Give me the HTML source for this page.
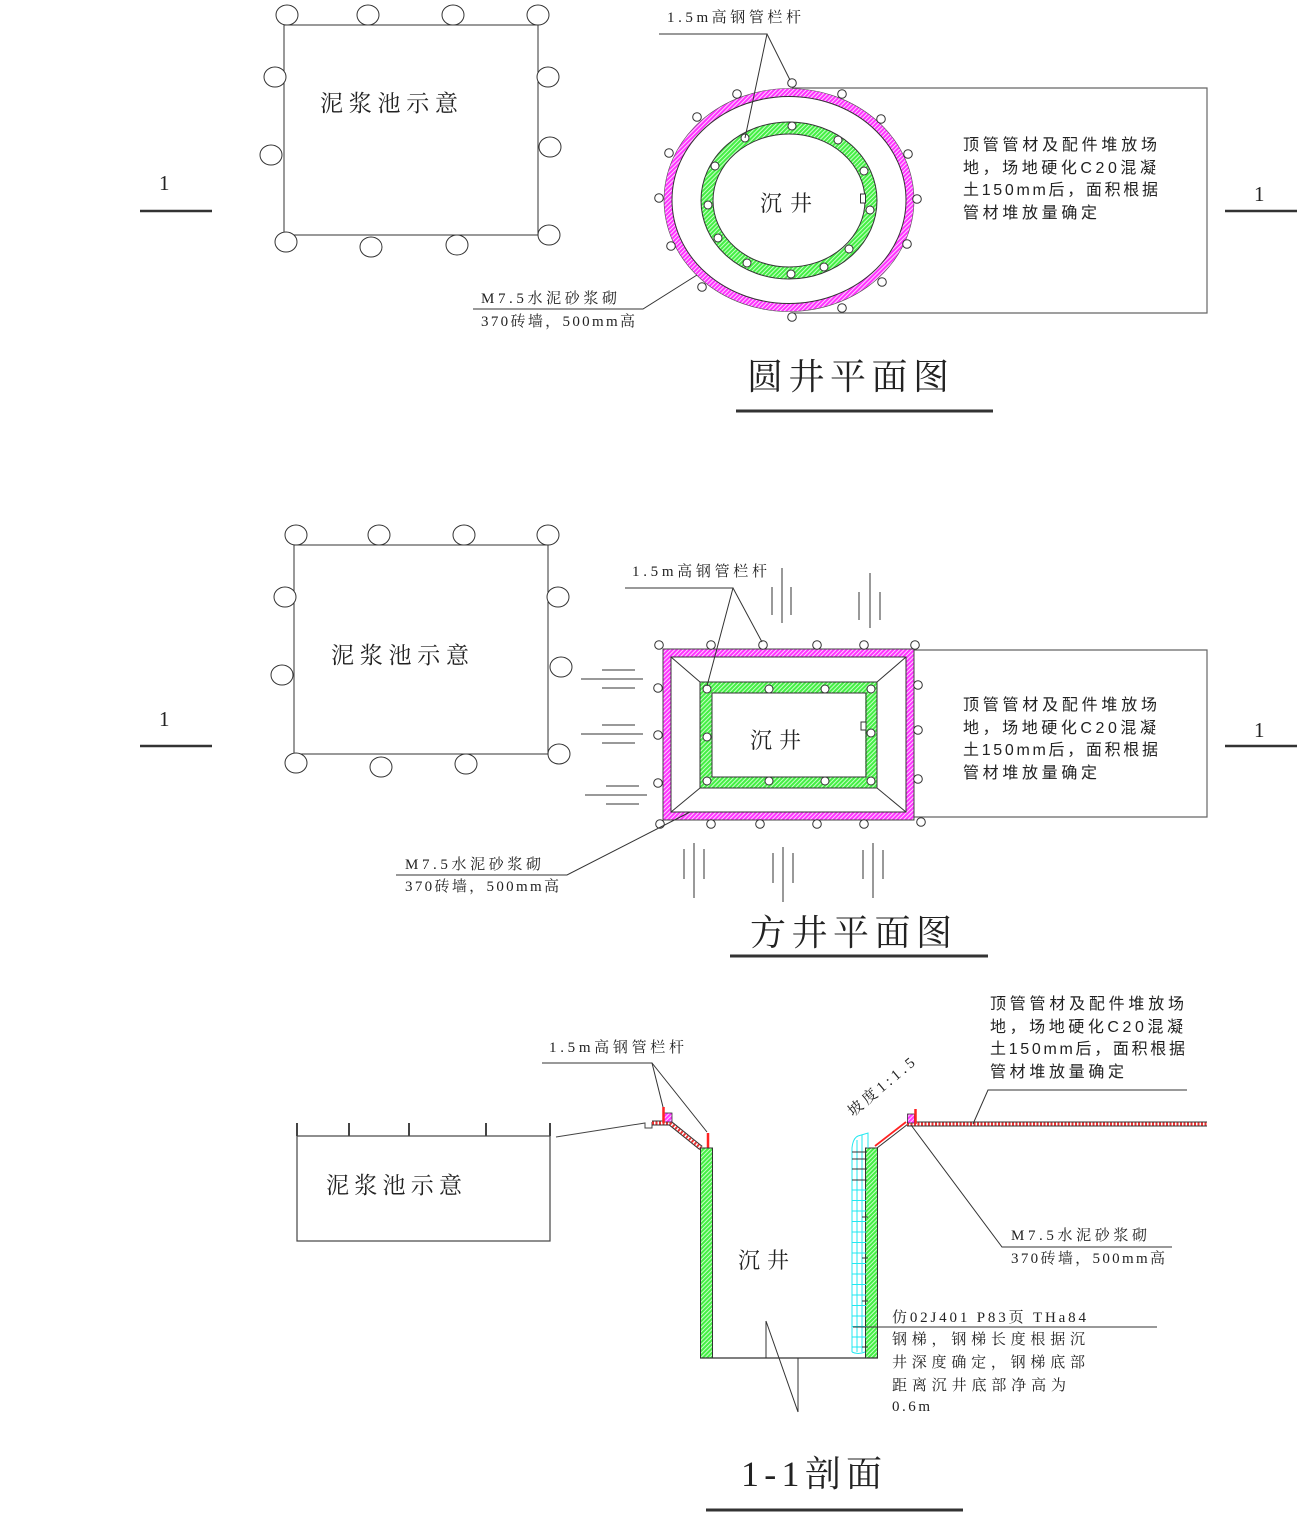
<!DOCTYPE html>
<html><head><meta charset="utf-8"><style>html,body{margin:0;padding:0;background:#fff;}svg{display:block}
.s{font-family:"Liberation Serif","Noto Serif CJK SC",serif;fill:#222}
.k{font-family:"Liberation Sans","Noto Sans CJK SC",sans-serif;fill:#222}
</style></head>
<body>
<svg width="1299" height="1539" viewBox="0 0 1299 1539" xmlns="http://www.w3.org/2000/svg">
<defs>
<pattern id="gh" width="3" height="3" patternUnits="userSpaceOnUse" patternTransform="rotate(45)"><rect width="3" height="3" fill="#44ee44"/><rect width="1" height="3" fill="#c8ffc8"/></pattern>
<pattern id="mh" width="3" height="3" patternUnits="userSpaceOnUse" patternTransform="rotate(45)"><rect width="3" height="3" fill="#ff33ff"/><rect width="1" height="3" fill="#ffd0ff"/></pattern>
<pattern id="rh" width="3" height="3" patternUnits="userSpaceOnUse" patternTransform="rotate(45)"><rect width="3" height="3" fill="#ee3333"/><rect width="1.3" height="3" fill="#fff"/></pattern>
</defs>

<!-- ================= PLAN 1: circular well ================= -->
<g fill="#fff" stroke="#333" stroke-width="1">
<rect x="284" y="25" width="254" height="210" fill="none"/>
<ellipse cx="287" cy="15" rx="11" ry="10"/><ellipse cx="368" cy="15" rx="11" ry="10"/><ellipse cx="453" cy="15" rx="11" ry="10"/><ellipse cx="538" cy="15" rx="11" ry="10"/>
<ellipse cx="275" cy="77" rx="11" ry="10"/><ellipse cx="271" cy="155" rx="11" ry="10"/>
<ellipse cx="548" cy="77" rx="11" ry="10"/><ellipse cx="550" cy="147" rx="11" ry="10"/>
<ellipse cx="286" cy="242" rx="11" ry="10"/><ellipse cx="371" cy="247" rx="11" ry="10"/><ellipse cx="457" cy="245" rx="11" ry="10"/><ellipse cx="549" cy="235" rx="11" ry="10"/>
</g>
<text class="s" x="320" y="111" font-size="23" textLength="138" lengthAdjust="spacing">泥浆池示意</text>

<text class="s" x="159" y="190" font-size="21">1</text>
<line x1="140" y1="211" x2="212" y2="211" stroke="#333" stroke-width="2.5"/>
<text class="s" x="1254" y="201" font-size="21">1</text>
<line x1="1225" y1="211" x2="1297" y2="211" stroke="#333" stroke-width="2.5"/>

<g stroke="#666" stroke-width="1.2" fill="none">
<polyline points="792,88 1207,88 1207,313 792,313"/>
</g>
<!-- magenta ring -->
<ellipse cx="789" cy="200" rx="121" ry="107.5" fill="none" stroke="url(#mh)" stroke-width="8"/>
<ellipse cx="789" cy="200" rx="125" ry="111.5" fill="none" stroke="#555" stroke-width="0.6"/>
<ellipse cx="789" cy="200" rx="117" ry="103.5" fill="none" stroke="#333" stroke-width="1"/>
<!-- green ring -->
<ellipse cx="789" cy="200.5" rx="82" ry="72.5" fill="none" stroke="url(#gh)" stroke-width="12"/>
<ellipse cx="789" cy="200.5" rx="88" ry="78.5" fill="none" stroke="#333" stroke-width="1"/>
<ellipse cx="789" cy="200.5" rx="76" ry="66.5" fill="none" stroke="#333" stroke-width="1"/>
<rect x="860.5" y="194" width="5" height="9" fill="#fff" stroke="#333" stroke-width="1"/>
<g fill="#fff" stroke="#333" stroke-width="1">
<circle cx="792" cy="83" r="4.3"/><circle cx="737" cy="94" r="4.3"/><circle cx="697" cy="117" r="4.3"/><circle cx="669" cy="153" r="4.3"/><circle cx="659" cy="198" r="4.3"/><circle cx="671" cy="246" r="4.3"/><circle cx="702" cy="287" r="4.3"/><circle cx="792" cy="317" r="4.3"/><circle cx="842" cy="308" r="4.3"/><circle cx="882" cy="282" r="4.3"/><circle cx="907" cy="244" r="4.3"/><circle cx="917" cy="199" r="4.3"/><circle cx="908" cy="154" r="4.3"/><circle cx="881" cy="119" r="4.3"/><circle cx="842" cy="94" r="4.3"/>
<circle cx="792" cy="126" r="4"/><circle cx="838" cy="140" r="4"/><circle cx="864" cy="171" r="4"/><circle cx="870" cy="210" r="4"/><circle cx="849" cy="249" r="4"/><circle cx="824" cy="267" r="4"/><circle cx="791" cy="274" r="4"/><circle cx="747" cy="263" r="4"/><circle cx="718" cy="238" r="4"/><circle cx="708" cy="205" r="4"/><circle cx="715" cy="166" r="4"/><circle cx="745" cy="138" r="4"/>
</g>
<text class="s" x="760" y="211" font-size="22" textLength="52" lengthAdjust="spacing">沉井</text>

<text class="s" x="667" y="22" font-size="15" textLength="134" lengthAdjust="spacing">1.5m高钢管栏杆</text>
<g stroke="#333" stroke-width="1" fill="none">
<polyline points="659,34 767,34 745,138"/>
<line x1="767" y1="34" x2="790" y2="80"/>
<polyline points="473,309 643,309 697,275"/>
</g>
<text class="s" x="481" y="303" font-size="15" textLength="136" lengthAdjust="spacing">M7.5水泥砂浆砌</text>
<text class="s" x="481" y="326" font-size="15" textLength="154" lengthAdjust="spacing">370砖墙，500mm高</text>

<text class="k" x="963" y="150" font-size="16" textLength="194" lengthAdjust="spacing">顶管管材及配件堆放场</text>
<text class="k" x="963" y="173" font-size="16" textLength="193" lengthAdjust="spacing">地，场地硬化C20混凝</text>
<text class="k" x="963" y="195" font-size="16" textLength="195" lengthAdjust="spacing">土150mm后，面积根据</text>
<text class="k" x="963" y="218" font-size="16" textLength="134" lengthAdjust="spacing">管材堆放量确定</text>

<text class="s" x="747" y="389" font-size="36" textLength="202" lengthAdjust="spacing">圆井平面图</text>
<line x1="736" y1="411" x2="993" y2="411" stroke="#333" stroke-width="3"/>

<!-- ================= PLAN 2: square well ================= -->
<g fill="#fff" stroke="#333" stroke-width="1">
<rect x="294" y="545" width="254" height="209" fill="none"/>
<ellipse cx="296" cy="535" rx="11" ry="10"/><ellipse cx="379" cy="535" rx="11" ry="10"/><ellipse cx="464" cy="535" rx="11" ry="10"/><ellipse cx="548" cy="535" rx="11" ry="10"/>
<ellipse cx="285" cy="597" rx="11" ry="10"/><ellipse cx="282" cy="675" rx="11" ry="10"/>
<ellipse cx="558" cy="597" rx="11" ry="10"/><ellipse cx="561" cy="667" rx="11" ry="10"/>
<ellipse cx="296" cy="763" rx="11" ry="10"/><ellipse cx="381" cy="767" rx="11" ry="10"/><ellipse cx="466" cy="764" rx="11" ry="10"/><ellipse cx="559" cy="754" rx="11" ry="10"/>
</g>
<text class="s" x="331" y="663" font-size="23" textLength="138" lengthAdjust="spacing">泥浆池示意</text>

<text class="s" x="159" y="726" font-size="21">1</text>
<line x1="140" y1="746" x2="212" y2="746" stroke="#333" stroke-width="2.5"/>
<text class="s" x="1254" y="737" font-size="21">1</text>
<line x1="1225" y1="746" x2="1297" y2="746" stroke="#333" stroke-width="2.5"/>

<polyline points="914,650 1207,650 1207,817 914,817" fill="none" stroke="#666" stroke-width="1.2"/>

<rect x="667" y="653" width="243" height="163" fill="none" stroke="url(#mh)" stroke-width="8"/>
<rect x="663" y="649" width="251" height="171" fill="none" stroke="#444" stroke-width="1"/>
<rect x="671" y="657" width="235" height="155" fill="none" stroke="#333" stroke-width="1"/>
<rect x="706" y="687.5" width="165" height="95" fill="none" stroke="url(#gh)" stroke-width="11.5"/>
<rect x="700" y="682" width="177" height="106" fill="none" stroke="#333" stroke-width="1"/>
<rect x="712" y="693" width="154" height="84" fill="none" stroke="#333" stroke-width="1"/>
<g stroke="#333" stroke-width="1">
<line x1="671" y1="657" x2="700" y2="682"/><line x1="906" y1="657" x2="877" y2="682"/>
<line x1="671" y1="812" x2="700" y2="788"/><line x1="906" y1="812" x2="877" y2="788"/>
</g>
<rect x="861" y="722" width="5" height="8" fill="#fff" stroke="#333" stroke-width="1"/>
<g fill="#fff" stroke="#333" stroke-width="1">
<circle cx="659" cy="645" r="4.3"/><circle cx="711" cy="645" r="4.3"/><circle cx="763" cy="645" r="4.3"/><circle cx="817" cy="645" r="4.3"/><circle cx="864" cy="645" r="4.3"/><circle cx="915" cy="645" r="4.3"/>
<circle cx="658" cy="688" r="4.3"/><circle cx="658" cy="735" r="4.3"/><circle cx="658" cy="783" r="4.3"/><circle cx="660" cy="824" r="4.3"/>
<circle cx="918" cy="685" r="4.3"/><circle cx="918" cy="730" r="4.3"/><circle cx="918" cy="779" r="4.3"/><circle cx="921" cy="822" r="4.3"/>
<circle cx="711" cy="824" r="4.3"/><circle cx="760" cy="824" r="4.3"/><circle cx="817" cy="824" r="4.3"/><circle cx="864" cy="824" r="4.3"/>
<circle cx="707" cy="689" r="4"/><circle cx="769" cy="689" r="4"/><circle cx="825" cy="689" r="4"/><circle cx="871" cy="689" r="4"/>
<circle cx="707" cy="781" r="4"/><circle cx="769" cy="781" r="4"/><circle cx="825" cy="781" r="4"/><circle cx="871" cy="781" r="4"/>
<circle cx="707" cy="737" r="4"/><circle cx="871" cy="733" r="4"/>
</g>
<text class="s" x="750" y="748" font-size="22" textLength="51" lengthAdjust="spacing">沉井</text>

<!-- ground symbols -->
<g stroke="#333" stroke-width="1">
<line x1="602" y1="670" x2="635" y2="670"/><line x1="581" y1="679" x2="643" y2="679"/><line x1="602" y1="688" x2="635" y2="688"/>
<line x1="602" y1="725" x2="635" y2="725"/><line x1="581" y1="734" x2="643" y2="734"/><line x1="602" y1="743" x2="635" y2="743"/>
<line x1="606" y1="786" x2="639" y2="786"/><line x1="585" y1="795" x2="647" y2="795"/><line x1="606" y1="804" x2="639" y2="804"/>
<line x1="772" y1="587" x2="772" y2="615"/><line x1="782" y1="568" x2="782" y2="623"/><line x1="791" y1="587" x2="791" y2="615"/>
<line x1="859" y1="592" x2="859" y2="620"/><line x1="870" y1="573" x2="870" y2="628"/><line x1="880" y1="592" x2="880" y2="620"/>
<line x1="684" y1="849" x2="684" y2="879"/><line x1="694" y1="843" x2="694" y2="898"/><line x1="704" y1="849" x2="704" y2="879"/>
<line x1="773" y1="853" x2="773" y2="883"/><line x1="783" y1="847" x2="783" y2="902"/><line x1="793" y1="853" x2="793" y2="883"/>
<line x1="863" y1="850" x2="863" y2="879"/><line x1="873" y1="843" x2="873" y2="898"/><line x1="883" y1="850" x2="883" y2="879"/>
</g>

<text class="s" x="632" y="576" font-size="15" textLength="135" lengthAdjust="spacing">1.5m高钢管栏杆</text>
<g stroke="#333" stroke-width="1" fill="none">
<polyline points="625,588 733,588 707,686"/>
<line x1="733" y1="588" x2="762" y2="642"/>
<polyline points="396,875 567,875 690,812"/>
</g>
<text class="s" x="405" y="869" font-size="15" textLength="136" lengthAdjust="spacing">M7.5水泥砂浆砌</text>
<text class="s" x="405" y="891" font-size="15" textLength="154" lengthAdjust="spacing">370砖墙，500mm高</text>

<text class="k" x="963" y="710" font-size="16" textLength="194" lengthAdjust="spacing">顶管管材及配件堆放场</text>
<text class="k" x="963" y="733" font-size="16" textLength="193" lengthAdjust="spacing">地，场地硬化C20混凝</text>
<text class="k" x="963" y="755" font-size="16" textLength="195" lengthAdjust="spacing">土150mm后，面积根据</text>
<text class="k" x="963" y="778" font-size="16" textLength="134" lengthAdjust="spacing">管材堆放量确定</text>

<text class="s" x="750" y="945" font-size="36" textLength="202" lengthAdjust="spacing">方井平面图</text>
<line x1="730" y1="956" x2="988" y2="956" stroke="#333" stroke-width="3"/>

<!-- ================= SECTION 1-1 ================= -->
<g stroke="#444" fill="none">
<rect x="297" y="1136" width="253" height="105" stroke-width="1.2"/>
<g stroke-width="2">
<line x1="297" y1="1123" x2="297" y2="1136"/><line x1="349" y1="1123" x2="349" y2="1136"/><line x1="409" y1="1123" x2="409" y2="1136"/><line x1="486" y1="1123" x2="486" y2="1136"/><line x1="550" y1="1123" x2="550" y2="1136"/>
</g>
<polyline points="556,1137 645,1123 645,1128 652,1128 652,1122" stroke-width="1"/>
</g>
<text class="s" x="326" y="1193" font-size="23" textLength="136" lengthAdjust="spacing">泥浆池示意</text>

<!-- left top -->
<line x1="652" y1="1123" x2="671" y2="1123" stroke="#333" stroke-width="5"/>
<line x1="652" y1="1123" x2="671" y2="1123" stroke="#fff" stroke-width="3"/>
<line x1="652" y1="1123" x2="671" y2="1123" stroke="#e33" stroke-width="3" stroke-dasharray="2,1.5"/>
<line x1="670" y1="1123" x2="701" y2="1148" stroke="#333" stroke-width="5"/>
<line x1="670" y1="1123" x2="701" y2="1148" stroke="#fff" stroke-width="3"/>
<line x1="670" y1="1123" x2="701" y2="1148" stroke="#e33" stroke-width="3" stroke-dasharray="2,1.5"/>
<rect x="663" y="1113" width="9" height="9" fill="url(#mh)" stroke="#333" stroke-width="0.8"/>
<line x1="663.5" y1="1107" x2="663.5" y2="1123" stroke="#f22" stroke-width="2.5"/>
<line x1="708" y1="1133" x2="708" y2="1148" stroke="#f22" stroke-width="2.5"/>

<!-- walls -->
<rect x="700.5" y="1148" width="12" height="210" fill="url(#gh)" stroke="#333" stroke-width="1"/>
<rect x="865.5" y="1148" width="12" height="210" fill="url(#gh)" stroke="#333" stroke-width="1"/>
<line x1="700" y1="1358" x2="878" y2="1358" stroke="#333" stroke-width="1.2"/>
<g stroke="#333" stroke-width="1" fill="none">
<line x1="766" y1="1321" x2="766" y2="1358"/>
<line x1="766" y1="1321" x2="798" y2="1412"/>
<line x1="798" y1="1358" x2="798" y2="1412"/>
</g>
<text class="s" x="738" y="1268" font-size="22" textLength="51" lengthAdjust="spacing">沉井</text>

<!-- ladder -->
<g stroke="#22e8f0" stroke-width="1" fill="none">
<path d="M852,1352 L852,1148 Q853,1138 858,1136 L868,1133 L868,1148"/>
<line x1="857" y1="1140" x2="857" y2="1352"/>
<line x1="862" y1="1135" x2="862" y2="1352"/>
<path d="M852,1352 Q858,1355 865,1352"/>
<line x1="852" y1="1190" x2="866" y2="1190"/><line x1="852" y1="1200.5" x2="866" y2="1200.5"/><line x1="852" y1="1211" x2="866" y2="1211"/><line x1="852" y1="1221.5" x2="866" y2="1221.5"/><line x1="852" y1="1232" x2="866" y2="1232"/><line x1="852" y1="1242.5" x2="866" y2="1242.5"/><line x1="852" y1="1253" x2="866" y2="1253"/><line x1="852" y1="1263.5" x2="866" y2="1263.5"/><line x1="852" y1="1274" x2="866" y2="1274"/><line x1="852" y1="1284.5" x2="866" y2="1284.5"/><line x1="852" y1="1295" x2="866" y2="1295"/><line x1="852" y1="1305.5" x2="866" y2="1305.5"/><line x1="852" y1="1316" x2="866" y2="1316"/><line x1="852" y1="1326.5" x2="866" y2="1326.5"/><line x1="852" y1="1337" x2="866" y2="1337"/><line x1="852" y1="1347" x2="866" y2="1347"/>
</g>
<g stroke="#333" stroke-width="1">
<line x1="852" y1="1152" x2="867" y2="1152"/><line x1="852" y1="1159" x2="867" y2="1159"/><line x1="852" y1="1169" x2="867" y2="1169"/><line x1="852" y1="1180" x2="867" y2="1180"/>
<line x1="862" y1="1217" x2="868" y2="1217"/><line x1="862" y1="1258" x2="868" y2="1258"/><line x1="862" y1="1301" x2="868" y2="1301"/><line x1="862" y1="1347" x2="868" y2="1347"/>
</g>

<!-- right top -->
<line x1="877" y1="1148" x2="908" y2="1124" stroke="#333" stroke-width="1"/>
<line x1="875" y1="1146" x2="906" y2="1122" stroke="#f22" stroke-width="1.8"/>
<line x1="907" y1="1124" x2="1207" y2="1124" stroke="#333" stroke-width="5"/>
<line x1="907" y1="1124" x2="1207" y2="1124" stroke="#fff" stroke-width="3"/>
<line x1="907" y1="1124" x2="1207" y2="1124" stroke="#e33" stroke-width="3" stroke-dasharray="2,1.5"/>
<rect x="907.5" y="1114" width="7" height="9" fill="url(#mh)" stroke="#333" stroke-width="0.8"/>
<line x1="915.5" y1="1109" x2="915.5" y2="1124" stroke="#f22" stroke-width="2.5"/>

<text class="s" transform="translate(853,1117) rotate(-40)" font-size="15" textLength="82" lengthAdjust="spacing">坡度1:1.5</text>

<text class="s" x="549" y="1052" font-size="15" textLength="135" lengthAdjust="spacing">1.5m高钢管栏杆</text>
<g stroke="#333" stroke-width="1" fill="none">
<polyline points="542,1063 652,1063 663,1107"/>
<line x1="652" y1="1063" x2="707" y2="1132"/>
<polyline points="1187,1090 988,1090 973,1124"/>
<polyline points="911,1125 1002,1247 1172,1247"/>
<line x1="853" y1="1327" x2="1157" y2="1327"/>
</g>

<text class="k" x="990" y="1009" font-size="16" textLength="194" lengthAdjust="spacing">顶管管材及配件堆放场</text>
<text class="k" x="990" y="1032" font-size="16" textLength="193" lengthAdjust="spacing">地，场地硬化C20混凝</text>
<text class="k" x="990" y="1054" font-size="16" textLength="195" lengthAdjust="spacing">土150mm后，面积根据</text>
<text class="k" x="990" y="1077" font-size="16" textLength="134" lengthAdjust="spacing">管材堆放量确定</text>

<text class="s" x="1011" y="1240" font-size="15" textLength="136" lengthAdjust="spacing">M7.5水泥砂浆砌</text>
<text class="s" x="1011" y="1263" font-size="15" textLength="154" lengthAdjust="spacing">370砖墙，500mm高</text>

<text class="s" x="892" y="1322" font-size="15" textLength="194" lengthAdjust="spacing">仿02J401 P83页 THa84</text>
<text class="s" x="892" y="1344" font-size="15" textLength="193" lengthAdjust="spacing">钢梯，钢梯长度根据沉</text>
<text class="s" x="892" y="1367" font-size="15" textLength="193" lengthAdjust="spacing">井深度确定，钢梯底部</text>
<text class="s" x="892" y="1390" font-size="15" textLength="174" lengthAdjust="spacing">距离沉井底部净高为</text>
<text class="s" x="892" y="1411" font-size="15" textLength="38" lengthAdjust="spacing">0.6m</text>

<text class="s" x="741" y="1486" font-size="36" textLength="141" lengthAdjust="spacing">1-1剖面</text>
<line x1="706" y1="1510" x2="963" y2="1510" stroke="#333" stroke-width="3"/>
</svg>
</body></html>
